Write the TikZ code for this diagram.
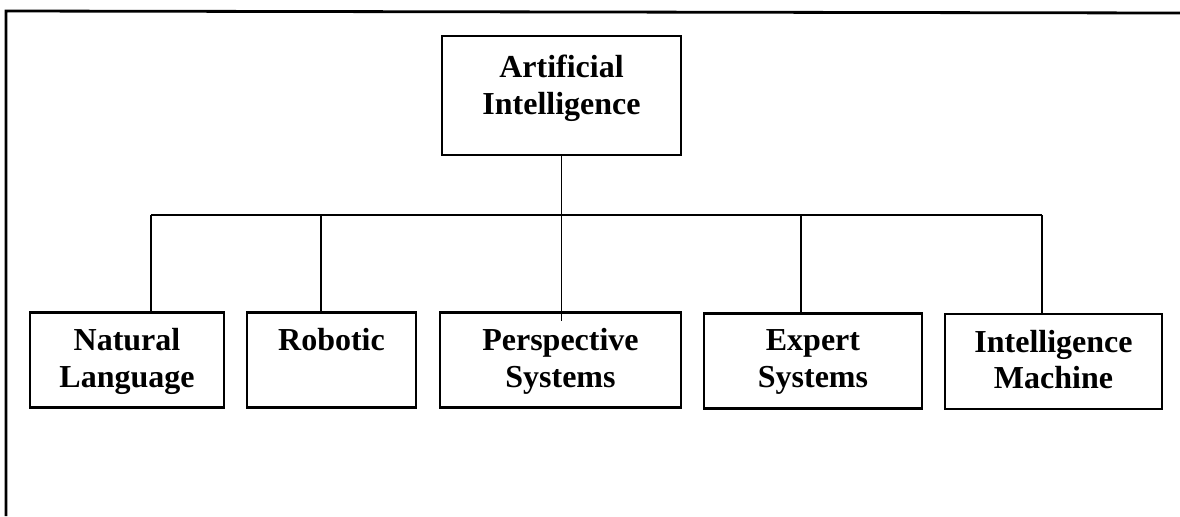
\documentclass[tikz,border=0pt]{standalone}
\usepackage{fontspec}
\setmainfont{Liberation Serif}
\usetikzlibrary{positioning,calc}

\begin{document}
\begin{tikzpicture}[x=0.5pt,y=-0.5pt,
    box/.style={draw, line width=1.2pt, minimum height=47.5pt, inner sep=0pt},
    lbl/.style={font=\bfseries\fontsize{16}{18.25}\selectfont, align=center, inner sep=0pt},
    link/.style={line width=0.9pt}]
    \useasboundingbox (0,0) rectangle (1180,516);
    \draw[line width=1.4pt] (6,516) -- (6,11) -- (1180,13);

    \node[box, minimum width=119.5pt, minimum height=59.5pt] (ai) at (561.5,95.5) {};
    \node[box, minimum width=97pt] (nl) at (127,360) {};
    \node[box, minimum width=84.5pt] (rob) at (331.5,360) {};
    \node[box, minimum width=120.5pt] (ps) at (560.5,360) {};
    \node[box, minimum width=109pt] (es) at (813,361) {};
    \node[box, minimum width=108.5pt] (im) at (1053.5,361.5) {};

    \node[lbl, below=10pt of ai.north] (ai_text) {Artificial\\Intelligence};
    \node[lbl, below=8.5pt of nl.north] (nl_text) {Natural\\Language};
    \node[lbl, below=8.5pt of rob.north] (rob_text) {Robotic};
    \node[lbl, below=8.5pt of ps.north] (ps_text) {Perspective\\Systems};
    \node[lbl, below=8.5pt of es.north] (es_text) {Expert\\Systems};
    \node[lbl, below=8.5pt of im.north] (im_text) {Intelligence\\Machine};

    \coordinate (bus_nl) at (151,215);
    \coordinate (bus_rob) at (321,215);
    \coordinate (bus_es) at (801,215);
    \coordinate (bus_im) at (1042,215);

    \draw[link] (bus_nl) -- (bus_im);
    \draw[link] (ai.south) -- ($(ai.south |- ps.north)+(0,10)$);
    \draw[link] (bus_nl) -- (bus_nl |- nl.north);
    \draw[link] (bus_rob) -- (bus_rob |- rob.north);
    \draw[link] (bus_es) -- (bus_es |- es.north);
    \draw[link] (bus_im) -- (bus_im |- im.north);
\end{tikzpicture}
\end{document}
